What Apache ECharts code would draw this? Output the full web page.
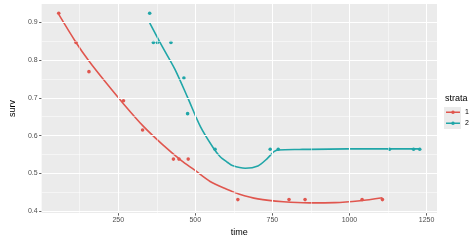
<!DOCTYPE html>
<html>
<head>
<meta charset="utf-8">
<script src="https://cdn.jsdelivr.net/npm/echarts@6/dist/echarts.min.js"></script>
<style>html,body{margin:0;padding:0;background:#fff}#c{width:474px;height:242px}</style>
</head>
<body>
<div id="c"></div>
<script>
// ---- data ----
const strataNames = ['1', '2'];
// observed points [time, surv]
const points1 = [[57,0.923],[113,0.846],[155,0.769],[267,0.692],[329,0.615],[429,0.538],[447,0.538],[477,0.538],[638,0.431],[804,0.431],[856,0.431],[1041,0.431],[1107,0.431]];
const points2 = [[352,0.923],[364,0.846],[377,0.846],[421,0.846],[463,0.752],[475,0.658],[564,0.564],[743,0.564],[769,0.564],[1130,0.564],[1208,0.564],[1228,0.564]];
// smoothed curves [time, surv]
const curve1 = [[57,0.920],[113,0.846],[155,0.797],[210,0.740],[268,0.683],[331,0.625],[393,0.577],[455,0.534],[496,0.510],[548,0.479],[600,0.459],[641,0.446],[703,0.433],[786,0.4255],[869,0.4225],[952,0.423],[1035,0.428],[1107,0.436]];
const curve2 = [[352,0.898],[393,0.835],[434,0.775],[476,0.699],[517,0.623],[558,0.568],[580,0.545],[605,0.529],[620,0.521],[662,0.514],[703,0.520],[734,0.540],[755,0.5575],[769,0.562],[838,0.5635],[993,0.565],[1130,0.565],[1228,0.565]];
// axis breaks
const xMajor = [250,500,750,1000,1250];
const xMinor = [125,375,625,875,1125];
const yMajor = [0.4,0.5,0.6,0.7,0.8,0.9];
const yMinor = [0.45,0.55,0.65,0.75,0.85];

const colors = ['#E0564E','#20A6A8'];
const FONT = '"Liberation Sans", Arial, sans-serif';
const keyIcon = 'path://M0,1.05H14V2.55H0Z M5.2,1.8A1.8,1.8 0 1,1 8.8,1.8A1.8,1.8 0 1,1 5.2,1.8Z';

const chart = echarts.init(document.getElementById('c'), null, {renderer:'canvas'});

const gridLines = [];
xMajor.forEach(v => gridLines.push({xAxis: v, lineStyle:{color:'#fff', width:1.1, type:'solid'}}));
xMinor.forEach(v => gridLines.push({xAxis: v, lineStyle:{color:'#fff', width:0.5, type:'solid'}}));
yMajor.forEach(v => gridLines.push({yAxis: v, lineStyle:{color:'#fff', width:1.1, type:'solid'}}));
yMinor.forEach(v => gridLines.push({yAxis: v, lineStyle:{color:'#fff', width:0.5, type:'solid'}}));

chart.setOption({
  animation: false,
  textStyle: {fontFamily: FONT},
  grid: {left:24, right:37, top:4, bottom:21, show:true, backgroundColor:'#EBEBEB', borderWidth:0},
  title: {text:'strata', left:445, top:94, padding:0, textStyle:{fontSize:9, fontWeight:'normal', color:'#000', fontFamily:FONT}},
  graphic: [{type:'rect', left:444, top:107, shape:{width:17, height:22}, style:{fill:'#EBEBEB'}, z:-1}],
  legend: {
    orient:'vertical', left:446, top:106.8, padding:0, itemGap:0,
    itemWidth:14, itemHeight:3.6,
    data: strataNames.map(n => ({name:n, icon:keyIcon})),
    textStyle:{fontSize:7, color:'#000', lineHeight:11, fontFamily:FONT},
    selectedMode:false
  },
  xAxis: {
    type:'value', min:1.5, max:1284,
    name:'time', nameLocation:'middle', nameGap:9,
    nameTextStyle:{fontSize:9, color:'#000', fontFamily:FONT},
    axisLine:{show:false},
    axisTick:{show:true, length:2.5, lineStyle:{color:'#333', width:0.8}, customValues:xMajor},
    axisLabel:{fontSize:7, color:'#4D4D4D', margin:3, customValues:xMajor, formatter:v=>String(v), fontFamily:FONT},
    splitLine:{show:false}
  },
  yAxis: {
    type:'value', min:0.3954, max:0.9476,
    name:'surv', nameLocation:'middle', nameGap:18,
    nameTextStyle:{fontSize:9, color:'#000', fontFamily:FONT},
    axisLine:{show:false},
    axisTick:{show:true, length:2.5, lineStyle:{color:'#333', width:0.8}, customValues:yMajor},
    axisLabel:{fontSize:7, color:'#4D4D4D', margin:4, customValues:yMajor, formatter:v=>v.toFixed(1), fontFamily:FONT},
    splitLine:{show:false}
  },
  series: [
    {type:'line', name:'grid', data:[[600,0.6]], showSymbol:false, lineStyle:{opacity:0}, silent:true, z:1,
     markLine:{silent:true, symbol:['none','none'], label:{show:false}, animation:false, data:gridLines}},
    {type:'line', name:strataNames[0], data:curve1, smooth:0.3, showSymbol:false, lineStyle:{color:colors[0], width:1.6}, itemStyle:{color:colors[0]}, z:3},
    {type:'line', name:strataNames[1], data:curve2, smooth:0.3, showSymbol:false, lineStyle:{color:colors[1], width:1.6}, itemStyle:{color:colors[1]}, z:3},
    {type:'scatter', name:strataNames[0], data:points1, symbolSize:3.6, itemStyle:{color:colors[0], opacity:1}, z:4},
    {type:'scatter', name:strataNames[1], data:points2, symbolSize:3.6, itemStyle:{color:colors[1], opacity:1}, z:4}
  ]
});
</script>
</body>
</html>
